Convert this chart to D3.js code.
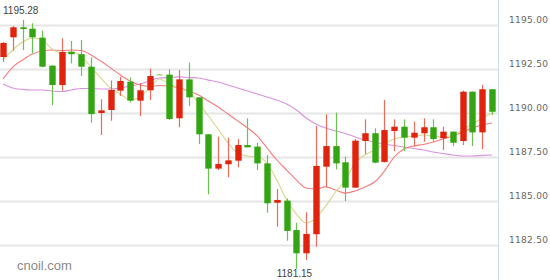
<!DOCTYPE html>
<html><head><meta charset="utf-8">
<script src="https://cdn.jsdelivr.net/npm/d3@7"></script>
<style>html,body{margin:0;padding:0;background:#fff;}svg{display:block;}</style>
</head><body>
<svg id="c" width="550" height="280"></svg>
<script>
const opens  = [1193.18,1194.30,1194.87,1194.79,1194.28,1192.69,1191.59,1193.48,1193.34,1192.63,1190.00,1190.17,1191.27,1191.78,1190.70,1191.29,1192.20,1192.18,1189.70,1191.91,1190.89,1188.79,1186.84,1187.09,1187.29,1188.18,1188.09,1187.14,1184.90,1185.02,1183.35,1182.03,1183.11,1186.95,1188.12,1187.20,1185.76,1188.41,1188.85,1187.22,1188.98,1189.22,1188.60,1188.85,1189.19,1188.56,1188.94,1188.41,1191.21,1188.90,1191.35];
const highs  = [1194.03,1194.94,1195.28,1195.10,1194.68,1192.72,1194.24,1194.09,1194.15,1193.16,1190.78,1191.84,1192.06,1192.01,1191.69,1192.52,1192.22,1192.48,1192.44,1192.86,1190.90,1188.80,1188.65,1188.60,1188.52,1189.70,1188.31,1187.61,1185.68,1185.15,1183.77,1184.36,1189.26,1189.93,1190.02,1187.52,1188.52,1189.64,1189.13,1190.74,1189.64,1189.64,1189.51,1189.70,1189.64,1189.22,1188.95,1191.27,1191.22,1191.59,1191.36];
const lows   = [1192.90,1193.54,1193.58,1193.39,1192.60,1190.45,1191.27,1192.82,1192.10,1189.45,1188.75,1189.56,1190.97,1190.59,1189.83,1190.74,1192.16,1189.60,1189.19,1190.40,1188.24,1185.38,1186.76,1186.35,1186.91,1188.05,1186.76,1184.34,1183.54,1182.74,1181.15,1181.65,1182.40,1185.81,1186.80,1185.00,1185.74,1187.67,1187.14,1187.18,1187.84,1187.84,1188.09,1188.37,1188.37,1187.90,1188.12,1188.18,1188.12,1187.94,1189.89];
const closes = [1193.98,1194.87,1194.77,1194.30,1192.63,1191.59,1193.47,1193.34,1192.63,1189.94,1190.15,1191.31,1191.82,1190.70,1191.29,1192.10,1192.18,1189.66,1191.91,1190.89,1188.79,1186.84,1187.10,1187.31,1188.18,1188.05,1187.14,1184.87,1185.06,1183.30,1182.03,1183.13,1186.99,1188.12,1187.14,1185.76,1188.43,1188.85,1187.18,1189.03,1189.22,1188.60,1188.88,1189.19,1188.52,1188.94,1188.31,1191.21,1188.90,1191.35,1190.07];
const ma5  = [1193.01,1193.58,1194.03,1194.26,1194.15,1193.64,1193.41,1193.47,1193.24,1192.61,1191.99,1191.42,1191.08,1190.74,1190.91,1191.42,1191.93,1191.65,1191.42,1191.19,1190.57,1189.83,1189.09,1188.30,1187.73,1187.56,1187.50,1187.16,1186.19,1185.06,1184.26,1183.75,1184.03,1184.72,1185.51,1186.19,1187.16,1187.61,1187.90,1188.24,1188.52,1188.64,1188.69,1188.75,1188.69,1188.64,1188.75,1189.03,1189.38,1189.72,1190.00];
const ma10 = [1191.93,1192.61,1193.01,1193.35,1193.52,1193.58,1193.55,1193.58,1193.55,1193.30,1192.95,1192.56,1192.16,1191.82,1191.59,1191.51,1191.56,1191.53,1191.42,1191.25,1191.02,1190.68,1190.34,1189.94,1189.55,1189.15,1188.69,1188.01,1187.33,1186.76,1186.19,1185.74,1185.68,1185.80,1185.63,1185.45,1185.57,1185.80,1186.08,1186.70,1187.50,1187.95,1188.13,1188.21,1188.35,1188.52,1188.69,1188.92,1189.15,1189.32,1189.43];
const ma20 = [1191.65,1191.42,1191.34,1191.31,1191.31,1191.25,1191.22,1191.31,1191.39,1191.39,1191.36,1191.36,1191.42,1191.53,1191.65,1191.82,1191.99,1192.02,1192.05,1192.02,1191.99,1191.87,1191.76,1191.59,1191.42,1191.25,1191.08,1190.91,1190.74,1190.51,1190.17,1189.72,1189.38,1189.15,1188.98,1188.84,1188.64,1188.47,1188.35,1188.24,1188.15,1188.07,1187.98,1187.90,1187.78,1187.70,1187.61,1187.56,1187.56,1187.59,1187.61];
const yTicks = [1182.50,1185.00,1187.50,1190.00,1192.50,1195.00];
const categories = d3.range(opens.length);

const W = 550, H = 280, plotRight = 498;
const svg = d3.select('#c');
const x = d3.scaleBand().domain(categories).range([-1.9, 496.9]);
const y = d3.scaleLinear().domain([1182.5, 1195]).range([245, 25]);
const cx = i => x(i) + x.bandwidth() / 2;

svg.append('defs').append('clipPath').attr('id','clip')
  .append('rect').attr('x',0).attr('y',0).attr('width',plotRight).attr('height',H);

// grid
svg.append('g').selectAll('line').data(yTicks).join('line')
  .attr('x1',0).attr('x2',plotRight)
  .attr('y1',d=>Math.round(y(d))+0.5).attr('y2',d=>Math.round(y(d))+0.5)
  .attr('stroke','#e6e6e6').attr('stroke-width',2);

// right axis
svg.append('line').attr('x1',plotRight+0.5).attr('x2',plotRight+0.5).attr('y1',0).attr('y2',H)
  .attr('stroke','#cddcea').attr('stroke-width',1);
svg.append('g').selectAll('text').data(yTicks).join('text')
  .attr('x',509).attr('y',d=>y(d)-2)
  .attr('font-family','DejaVu Sans').attr('font-size','9px').attr('letter-spacing','0.3px')
  .attr('fill','#666').text(d=>d.toFixed(2));

// watermark
svg.append('text').attr('x',17).attr('y',270).attr('font-family','Liberation Sans')
  .attr('font-size','13px').attr('fill','#8a8a8a').text('cnoil.com');

const g = svg.append('g').attr('clip-path','url(#clip)');

// MA lines
const line = d3.line().x((d,i)=>cx(i)).y(d=>y(d)).curve(d3.curveMonotoneX);
[[ma20,'#d992e0'],[ma10,'#f77b7b'],[ma5,'#d8d68a']].forEach(([s,c])=>{
  g.append('path').datum(s).attr('d',line).attr('fill','none').attr('stroke',c).attr('stroke-width',1.1);
});

const RED='#e0230d', GREEN='#34a512';
const bw = 6.4;
const data = categories.map(i=>({i,o:opens[i],h:highs[i],l:lows[i],c:closes[i]}));
const cg = g.append('g').selectAll('g').data(data).join('g');
cg.append('line')
  .attr('x1',d=>Math.round(cx(d.i))+0.5).attr('x2',d=>Math.round(cx(d.i))+0.5)
  .attr('y1',d=>y(d.h)).attr('y2',d=>y(d.l))
  .attr('stroke',d=>d.c>d.o?'#ee6a5a':'#6cc250').attr('stroke-width',1.2)
  .attr('opacity',d=>Math.abs(y(d.o)-y(d.c))<1.5?0.5:1);
cg.append('rect')
  .attr('x',d=>Math.round(cx(d.i))+0.5-bw/2).attr('width',bw)
  .attr('y',d=>Math.min(y(d.o),y(d.c)))
  .attr('height',d=>Math.max(1.2,Math.abs(y(d.o)-y(d.c))))
  .attr('fill',d=>d.c>d.o?RED:GREEN)
  .attr('opacity',d=>Math.abs(y(d.o)-y(d.c))<1.5?0.5:1);

// max / min labels
const iMax = d3.maxIndex(highs), iMin = d3.minIndex(lows);
svg.append('text').attr('x',cx(iMax)-2).attr('y',y(highs[iMax])-6.5).attr('text-anchor','middle')
  .attr('font-family','Liberation Sans').attr('font-size','10px').attr('fill','#444')
  .text(highs[iMax].toFixed(2))
  .each(function(){const b=this.getBBox(); if(b.x<3) d3.select(this).attr('text-anchor','start').attr('x',3);});
svg.append('text').attr('x',cx(iMin)-2).attr('y',y(lows[iMin])+8.5).attr('text-anchor','middle')
  .attr('font-family','Liberation Sans').attr('font-size','10px').attr('fill','#444')
  .text(lows[iMin].toFixed(2));
</script>
</body></html>
